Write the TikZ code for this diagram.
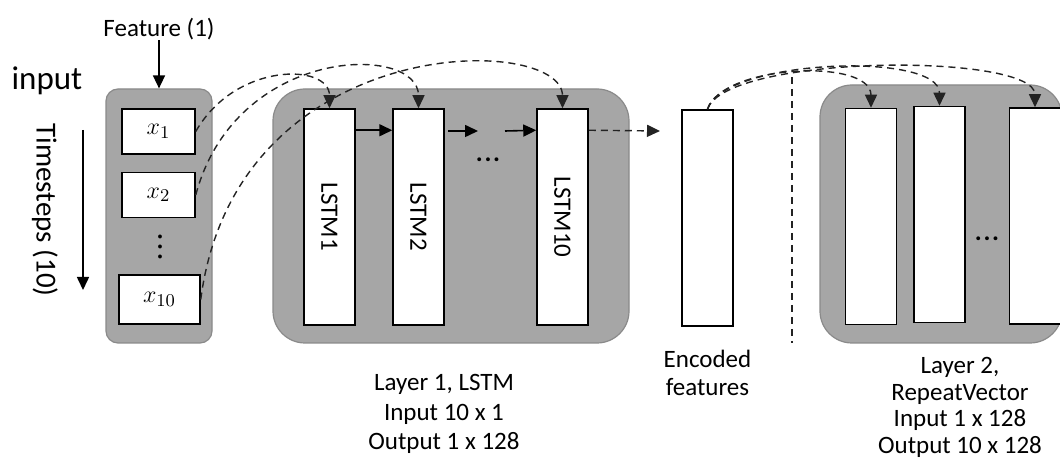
\documentclass[tikz,border=0pt]{standalone}
\usepackage{fontspec}
\setmainfont{Carlito}
\usetikzlibrary{arrows.meta,positioning}
\definecolor{panelGray}{RGB}{166,166,166}
\definecolor{panelEdge}{RGB}{138,138,138}
\definecolor{inkDash}{RGB}{35,35,35}

\begin{document}
\begin{tikzpicture}[x=0.5pt,y=-0.5pt,
    panel/.style={draw=panelEdge, fill=panelGray, line width=0.6pt, inner sep=0pt},
    cellbox/.style={draw=black, fill=white, line width=0.75pt, inner sep=0pt},
    tallcell/.style={cellbox, minimum width=25.5pt, minimum height=108pt},
    flow/.style={-{Triangle[length=6.5pt,width=6pt]}, line width=0.8pt},
    dashflow/.style={flow, draw=inkDash, dash pattern=on 3.5pt off 2.5pt, line width=0.7pt},
    lbl/.style={font=\fontsize{12.5}{14.75}\selectfont, align=center, inner sep=0pt},
    dotrow/.style={font=\bfseries\fontsize{13}{14}\selectfont, inner sep=0pt}]
    \path[use as bounding box, clip] (0,0) rectangle (1060,475);

    % input column
    \node[panel, rounded corners=6pt, minimum width=53pt, minimum height=127pt] (inpanel) at (159,216) {};
    \node[cellbox, minimum width=36.5pt, minimum height=22.5pt] (x1) at (158.5,131.5) {\fontsize{12.5}{12.5}\selectfont$x_1$};
    \node[cellbox, minimum width=36.5pt, minimum height=22.5pt] (x2) at (158.5,195) {\fontsize{12.5}{12.5}\selectfont$x_2$};
    \node[cellbox, minimum width=40.5pt, minimum height=24.5pt] (x10) at (159.5,299.5) {\fontsize{12.5}{12.5}\selectfont$x_{10}$};
    \node[dotrow, rotate=-90] (xdots) at (160,247) {.\kern1.5pt.\kern1.5pt.};
    \node[lbl, above=24pt of inpanel] (feat) {Feature (1)};
    \draw[flow] (feat) -- (inpanel);
    \node[font=\fontsize{16.5}{18}\selectfont, anchor=base, inner sep=0pt] (inlbl) at (47,90) {input};
    \node[font=\fontsize{14.5}{16}\selectfont, rotate=-90, inner sep=0pt] (tslbl) at (45,210) {Timesteps (10)};
    \coordinate (tsTop) at (83,130);
    \coordinate (tsBot) at (83,290);
    \draw[flow] (tsTop) -- (tsBot);

    % layer 1, LSTM
    \node[panel, rounded corners=16pt, minimum width=178pt, minimum height=127pt] (lstmpanel) at (451,216) {};
    \node[tallcell] (l1) at (329.5,217) {};
    \node[tallcell] (l2) at (418.5,217) {};
    \node[tallcell] (l10) at (562.5,217) {};
    \node[lbl, rotate=-90] (l1txt) at (l1) {LSTM1};
    \node[lbl, rotate=-90] (l2txt) at (l2) {LSTM2};
    \node[lbl, rotate=-90] (l10txt) at (l10) {LSTM10};
    \node[dotrow] (ldots) at (488,160) {.\kern0.8pt.\kern0.8pt.};
    \coordinate (gapA) at (448,131);
    \coordinate (gapB) at (478,131);
    \coordinate (gapC) at (505,131);
    \coordinate (encIn) at (660,131);
    \draw[flow] ([yshift=-11pt]l1.north east) -- ([yshift=-11pt]l2.north west);
    \draw[flow] (gapA) -- (gapB);
    \draw[flow] (gapC) -- ([yshift=-11pt]l10.north west);
    \draw[dashflow] ([yshift=-11pt]l10.north east) -- (encIn);
    \node[lbl, anchor=north] (lstmlbl) at (444,374) {Layer 1, LSTM\\Input 10 x 1\\Output 1 x 128};

    % inputs into the cells
    \draw[dashflow] (x1.east) .. controls +(40,-70) and +(0,-45) .. (l1.north);
    \draw[dashflow] (x2.east) .. controls +(40,-150) and +(0,-65) .. (l2.north);
    \draw[dashflow] (x10.east) .. controls +(35,-270) and +(0,-75) .. (l10.north);

    % encoded vector
    \node[tallcell] (enc) at (707.5,218) {};
    \node[lbl, below=11.5pt of enc, font=\fontsize{12.5}{14}\selectfont] (enclbl) {Encoded\\features};
    \coordinate (splitTop) at (792,77);
    \coordinate (splitBot) at (792,343);
    \draw[draw=inkDash, dash pattern=on 3.5pt off 2.5pt, line width=0.7pt] (splitTop) -- (splitBot);

    % layer 2, RepeatVector
    \node[panel, rounded corners=16pt, minimum width=121pt, minimum height=129pt] (reppanel) at (941,214) {};
    \node[tallcell] (b1) at (871,216.5) {};
    \node[tallcell] (b2) at (939.5,214.5) {};
    \node[tallcell] (b3) at (1035,216) {};
    \node[dotrow] (rdots) at (987,239) {.\kern0.8pt.\kern0.8pt.};
    \draw[dashflow] (enc.north) .. controls +(15,-45) and +(0,-50) .. (b1.north);
    \draw[dashflow] (enc.north) .. controls +(15,-50) and +(0,-55) .. (b2.north);
    \draw[dashflow] (enc.north) .. controls +(18,-55) and +(0,-55) .. (b3.north);
    \node[lbl, anchor=north, font=\fontsize{12.5}{13.25}\selectfont] (replbl) at (960,357) {Layer 2,\\RepeatVector\\Input 1 x 128\\Output 10 x 128};
\end{tikzpicture}
\end{document}
